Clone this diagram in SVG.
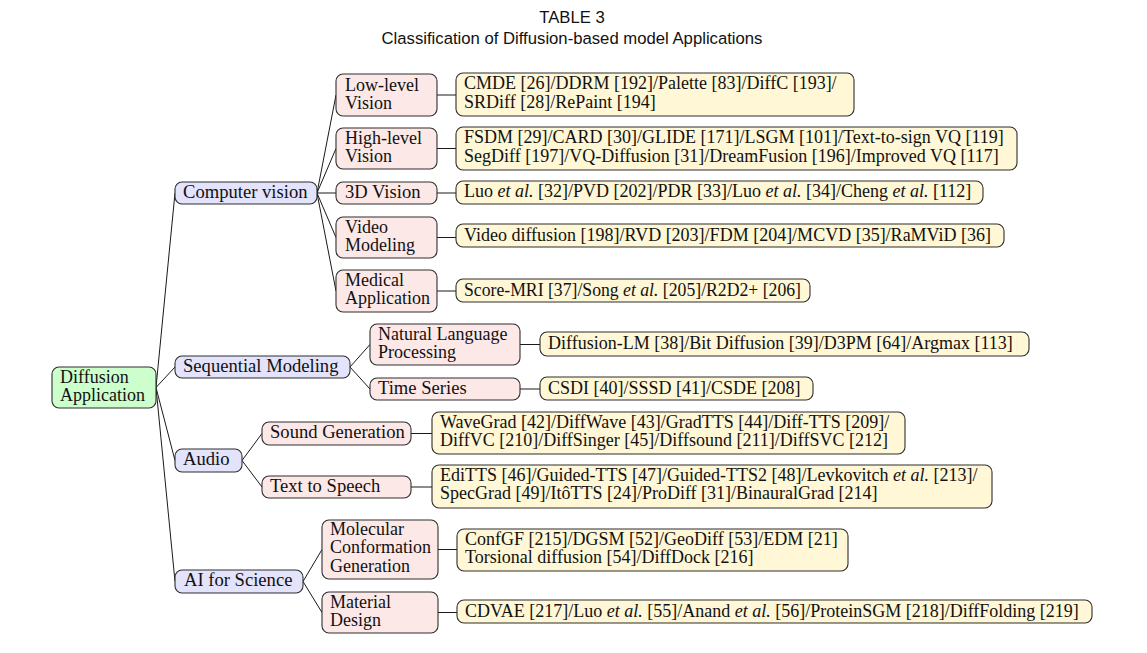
<svg xmlns="http://www.w3.org/2000/svg" width="1147" height="653" viewBox="0 0 1147 653">
<style>
.t{font-family:"Liberation Serif","Times New Roman",serif;font-size:18px;fill:#111}
.n{font-size:18.6px}
.h{font-family:"Liberation Sans",Arial,sans-serif;font-size:16.7px;fill:#111;text-anchor:middle}
.b{stroke:#2e2e2e;stroke-width:1.1}
.root{fill:#ccffcc}
.l1{fill:#e3e3fb}
.l2{fill:#fde8e8}
.lf{fill:#fff7d6}
.e{stroke:#1a1a1a;stroke-width:1;fill:none}
.it{font-style:italic}
</style>
<rect width="1147" height="653" fill="#fff"/>
<g id="title">
<text class="h" x="572" y="23">TABLE 3</text>
<text class="h" x="572" y="44">Classification of Diffusion-based model Applications</text>
</g>
<g id="connectors">
<path class="e" d="M156,387.5L175,193M156,387.5L175,367M156,387.5L175,460.5M156,387.5L175,581.5"/>
<path class="e" d="M317,193L336,95M317,193L336,148.5M317,193L336,193M317,193L336,237.5M317,193L336,291"/>
<path class="e" d="M350,367L370,344.5M350,367L370,389"/>
<path class="e" d="M242,460.5L262,433.5M242,460.5L262,487"/>
<path class="e" d="M303,581.5L322,549.5M303,581.5L322,612.5"/>
<path class="e" d="M437,95H456M437,148.5H456M437,193H456M437,237.5H456M437,291H456M520,344.5H540M520,389H540M411,433.5H432M411,487H432M438,549.5H457M438,612.5H457"/>
</g>
<g id="root">
<rect class="b root" x="52" y="367" width="104" height="41" rx="7"/>
<text class="t" x="60" y="383">Diffusion</text>
<text class="t" x="60" y="401">Application</text>
</g>
<g id="cv">
<rect class="b l1" x="175" y="182" width="142" height="22" rx="7"/>
<text class="t n" x="183" y="198">Computer vision</text>
</g>
<g id="seq">
<rect class="b l1" x="175" y="356" width="175" height="22" rx="7"/>
<text class="t n" x="183" y="372">Sequential Modeling</text>
</g>
<g id="audio">
<rect class="b l1" x="175" y="449" width="67" height="23" rx="7"/>
<text class="t n" x="183" y="465">Audio</text>
</g>
<g id="ai">
<rect class="b l1" x="175" y="570" width="128" height="23" rx="7"/>
<text class="t n" x="184" y="586">AI for Science</text>
</g>
<g id="lowlevel">
<rect class="b l2" x="336" y="74" width="101" height="42" rx="7"/>
<text class="t" x="345" y="91">Low-level</text>
<text class="t" x="345" y="109">Vision</text>
</g>
<g id="highlevel">
<rect class="b l2" x="336" y="128" width="101" height="41" rx="7"/>
<text class="t" x="345" y="144">High-level</text>
<text class="t" x="345" y="162">Vision</text>
</g>
<g id="vision3d">
<rect class="b l2" x="336" y="182" width="101" height="22" rx="7"/>
<text class="t n" x="345" y="198">3D Vision</text>
</g>
<g id="video">
<rect class="b l2" x="336" y="217" width="101" height="41" rx="7"/>
<text class="t" x="345" y="233">Video</text>
<text class="t" x="345" y="251">Modeling</text>
</g>
<g id="medical">
<rect class="b l2" x="336" y="270" width="101" height="42" rx="7"/>
<text class="t" x="345" y="286">Medical</text>
<text class="t" x="345" y="304">Application</text>
</g>
<g id="nlp">
<rect class="b l2" x="370" y="324" width="150" height="41" rx="7"/>
<text class="t" x="378" y="340">Natural Language</text>
<text class="t" x="378" y="358">Processing</text>
</g>
<g id="timeseries">
<rect class="b l2" x="370" y="378" width="150" height="22" rx="7"/>
<text class="t n" x="378" y="394">Time Series</text>
</g>
<g id="sound">
<rect class="b l2" x="262" y="422" width="149" height="23" rx="7"/>
<text class="t n" x="270" y="438">Sound Generation</text>
</g>
<g id="tts">
<rect class="b l2" x="262" y="476" width="149" height="22" rx="7"/>
<text class="t n" x="270" y="492">Text to Speech</text>
</g>
<g id="molecular">
<rect class="b l2" x="322" y="520" width="116" height="59" rx="7"/>
<text class="t" x="330" y="535">Molecular</text>
<text class="t" x="330" y="553">Conformation</text>
<text class="t" x="330" y="572">Generation</text>
</g>
<g id="material">
<rect class="b l2" x="322" y="592" width="116" height="41" rx="7"/>
<text class="t" x="330" y="608">Material</text>
<text class="t" x="330" y="626">Design</text>
</g>
<g id="leaf-lowlevel">
<rect class="b lf" x="456" y="73" width="398" height="43" rx="7"/>
<text class="t" x="464" y="89">CMDE [26]/DDRM [192]/Palette [83]/DiffC [193]/</text>
<text class="t" x="464" y="108">SRDiff [28]/RePaint [194]</text>
</g>
<g id="leaf-highlevel">
<rect class="b lf" x="456" y="127" width="561" height="43" rx="7"/>
<text class="t" x="464" y="143">FSDM [29]/CARD [30]/GLIDE [171]/LSGM [101]/Text-to-sign VQ [119]</text>
<text class="t" x="464" y="162">SegDiff [197]/VQ-Diffusion [31]/DreamFusion [196]/Improved VQ [117]</text>
</g>
<g id="leaf-3d">
<rect class="b lf" x="456" y="181" width="527" height="23" rx="7"/>
<text class="t" x="464" y="197">Luo <tspan class="it">et al.</tspan> [32]/PVD [202]/PDR [33]/Luo <tspan class="it">et al.</tspan> [34]/Cheng <tspan class="it">et al.</tspan> [112]</text>
</g>
<g id="leaf-video">
<rect class="b lf" x="456" y="224" width="548" height="23" rx="7"/>
<text class="t" x="464" y="241">Video diffusion [198]/RVD [203]/FDM [204]/MCVD [35]/RaMViD [36]</text>
</g>
<g id="leaf-medical">
<rect class="b lf" x="456" y="279" width="354" height="23" rx="7"/>
<text class="t" x="464" y="296" textLength="337" lengthAdjust="spacingAndGlyphs">Score-MRI [37]/Song <tspan class="it">et al.</tspan> [205]/R2D2+ [206]</text>
</g>
<g id="leaf-nlp">
<rect class="b lf" x="540" y="332" width="489" height="24" rx="7"/>
<text class="t" x="548" y="349">Diffusion-LM [38]/Bit Diffusion [39]/D3PM [64]/Argmax [113]</text>
</g>
<g id="leaf-timeseries">
<rect class="b lf" x="540" y="377" width="273" height="23" rx="7"/>
<text class="t" x="548" y="394">CSDI [40]/SSSD [41]/CSDE [208]</text>
</g>
<g id="leaf-sound">
<rect class="b lf" x="432" y="412" width="473" height="42" rx="7"/>
<text class="t" x="440" y="428">WaveGrad [42]/DiffWave [43]/GradTTS [44]/Diff-TTS [209]/</text>
<text class="t" x="440" y="446">DiffVC [210]/DiffSinger [45]/Diffsound [211]/DiffSVC [212]</text>
</g>
<g id="leaf-tts">
<rect class="b lf" x="432" y="465" width="560" height="43" rx="7"/>
<text class="t" x="440" y="481">EdiTTS [46]/Guided-TTS [47]/Guided-TTS2 [48]/Levkovitch <tspan class="it">et al.</tspan> [213]/</text>
<text class="t" x="440" y="499">SpecGrad [49]/ItôTTS [24]/ProDiff [31]/BinauralGrad [214]</text>
</g>
<g id="leaf-molecular">
<rect class="b lf" x="457" y="529" width="391" height="42" rx="7"/>
<text class="t" x="465" y="545">ConfGF [215]/DGSM [52]/GeoDiff [53]/EDM [21]</text>
<text class="t" x="465" y="563">Torsional diffusion [54]/DiffDock [216]</text>
</g>
<g id="leaf-material">
<rect class="b lf" x="457" y="600" width="635" height="23" rx="7"/>
<text class="t" x="465" y="617">CDVAE [217]/Luo <tspan class="it">et al.</tspan> [55]/Anand <tspan class="it">et al.</tspan> [56]/ProteinSGM [218]/DiffFolding [219]</text>
</g>
</svg>
